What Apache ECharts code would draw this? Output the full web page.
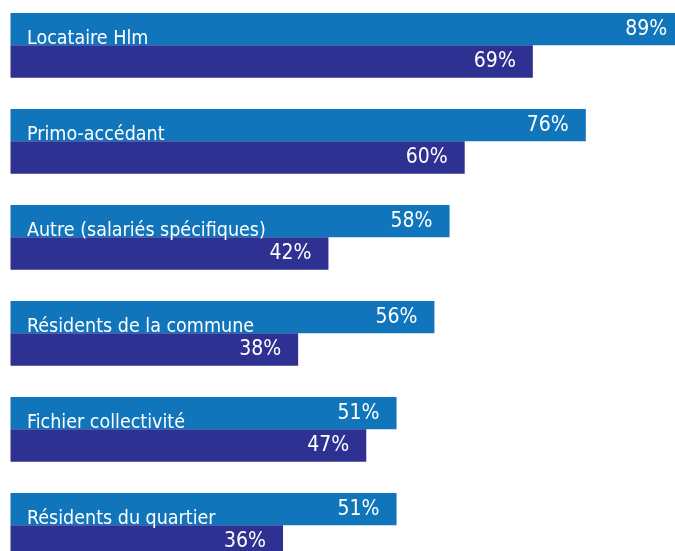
<!DOCTYPE html>
<html>
<head>
<meta charset="utf-8">
<style>
  html, body { margin: 0; padding: 0; background: #ffffff; overflow: hidden; }
  /* the plot runs past the right and bottom edges of the window */
  #chart { position: absolute; left: 0; top: -3px; width: 790px; height: 600px; }
</style>
<script src="https://cdn.jsdelivr.net/npm/echarts@6/dist/echarts.min.js"></script>
</head>
<body>
<div id="chart"></div>
<script>
// Profils de demandeurs, deux séries de pourcentages
const categories = [
  'Locataire Hlm',
  'Primo-accédant',
  'Autre (salariés spécifiques)',
  'Résidents de la commune',
  'Fichier collectivité',
  'Résidents du quartier'
];
const seriesA = [89, 76, 58, 56, 51, 51];
const seriesB = [69, 60, 42, 38, 47, 36];

const FONT = '"DejaVu Sans Condensed", "Liberation Sans", sans-serif';

const chart = echarts.init(document.getElementById('chart'), null, { renderer: 'canvas' });

const valueLabel = {
  show: true,
  position: 'insideRight',
  distance: 17,
  color: '#ffffff',
  fontFamily: FONT,
  fontSize: 21,
  formatter: p => p.value + '%'
};

chart.setOption({
  animation: false,
  backgroundColor: '#ffffff',
  grid: { left: 10.5, top: 0.3, width: 757, height: 576, containLabel: false },
  xAxis: {
    type: 'value',
    min: 0,
    max: 100,
    show: false
  },
  yAxis: {
    type: 'category',
    data: categories,
    inverse: true,
    z: 10,
    axisLine: { show: false },
    axisTick: { show: false },
    splitLine: { show: false },
    axisLabel: {
      inside: true,
      margin: 16.5,
      color: '#ffffff',
      fontFamily: FONT,
      fontSize: 19.5,
      // names sit on the line between the two bars of each pair
      verticalAlign: 'bottom',
      lineHeight: 12
    }
  },
  series: [
    {
      type: 'bar',
      data: seriesA,
      barWidth: 32.35,
      barGap: '0%',
      itemStyle: { color: '#1175bc' },
      label: valueLabel
    },
    {
      type: 'bar',
      data: seriesB,
      barWidth: 32.35,
      barGap: '0%',
      itemStyle: { color: '#2e3192' },
      label: valueLabel
    }
  ]
});
</script>
</body>
</html>
